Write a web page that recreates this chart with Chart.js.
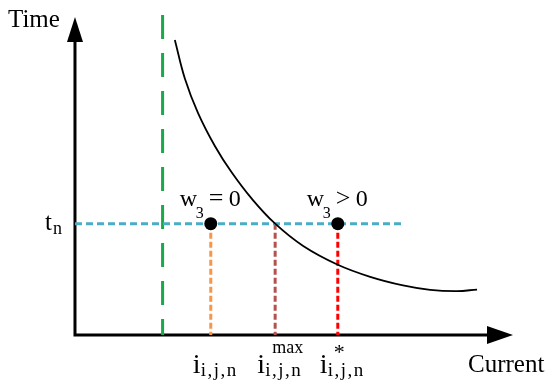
<!DOCTYPE html>
<html lang="en">

<head>
    <meta charset="UTF-8">
    <title>Time-Current Curve</title>
    <script src="https://cdn.jsdelivr.net/npm/chart.js"></script>
</head>

<style>
    body { margin: 0; background: #fff; }
    #box { width: 550px; height: 385px; }
</style>

<body>
    <div id="box">
        <canvas id="myChart" width="550" height="385"></canvas>
    </div>

    <script>
        // curve (current, time)
        const curveX = [2.28, 2.51, 2.81, 3.20, 3.58, 4.04, 4.57, 5.21, 6.00, 6.74, 7.49, 8.11, 8.72, 9.18];
        const curveY = [9.28, 8.06, 6.98, 5.93, 5.11, 4.28, 3.50, 2.80, 2.21, 1.83, 1.56, 1.42, 1.38, 1.43];

        const tn = 3.5;              // time level t_n
        const levelEnd = 7.5;        // where the t_n line stops
        const iLimit = 2.0;          // green limit line
        const limitTop = 10.06;
        const iValues = [3.1, 4.57, 6.0];          // i_{i,j,n}, i^max, i*
        const iSup = ['', 'max', '*'];
        const iColors = ['#f79646', '#b5524f', '#ff0000'];
        const dotX = [3.1, 6.0];
        const dotSigns = ['=', '>'];
        const axisEnd = 10;

        const ctxEl = document.getElementById('myChart').getContext('2d');
        const serif = '"Liberation Serif", "Times New Roman", serif';

        const pts = (xs, ys) => xs.map((x, i) => ({ x: x, y: ys[i] }));

        const datasets = [
            {   // dots, first so they sit on top
                data: dotX.map(x => ({ x: x, y: tn })),
                showLine: false,
                pointRadius: 6.5,
                pointBackgroundColor: '#000',
                pointBorderWidth: 0,
            },
            {
                data: pts(curveX, curveY),
                showLine: true,
                borderColor: '#000',
                borderWidth: 1.8,
                pointRadius: 0,
                tension: 0.4,
            },
            {
                data: [{ x: 0, y: tn }, { x: levelEnd, y: tn }],
                showLine: true,
                borderColor: '#4bacc6',
                borderWidth: 3,
                borderDash: [7, 4],
                pointRadius: 0,
            },
        ];
        iValues.forEach((v, k) => {
            datasets.push({
                data: [{ x: v, y: tn }, { x: v, y: 0 }],
                showLine: true,
                borderColor: iColors[k],
                borderWidth: 3,
                borderDash: [6, 3],
                pointRadius: 0,
            });
        });
        datasets.push({
            data: [{ x: iLimit, y: limitTop }, { x: iLimit, y: 0 }],
            showLine: true,
            borderColor: '#1aa84c',
            borderWidth: 3,
            borderDash: [24, 14],
            pointRadius: 0,
        });
        datasets.push({
            data: [{ x: 0, y: 9.3 }, { x: 0, y: 0 }, { x: 9.45, y: 0 }],
            showLine: true,
            borderColor: '#000',
            borderWidth: 3,
            borderJoinStyle: 'miter',
            pointRadius: 0,
        });

        function txt(c, s, x, y, size) {
            c.font = size + 'px ' + serif;
            c.fillText(s, x, y);
            return c.measureText(s).width;
        }

        function spaced(c, s, x, y, size, gap) {
            c.font = size + 'px ' + serif;
            for (const ch of s) {
                c.fillText(ch, x, y);
                x += c.measureText(ch).width + gap;
            }
        }

        const labelsPlugin = {
            id: 'labels',
            afterDraw(chart) {
                const c = chart.ctx;
                const sx = chart.scales.x, sy = chart.scales.y;
                const ox = sx.getPixelForValue(0), oy = sy.getPixelForValue(0);
                c.save();
                c.fillStyle = '#000';

                // arrow heads
                const ty = sy.getPixelForValue(axisEnd);
                c.beginPath();
                c.moveTo(ox, ty);
                c.lineTo(ox - 8, ty + 25);
                c.lineTo(ox + 8, ty + 25);
                c.closePath();
                c.fill();
                const tx = sx.getPixelForValue(axisEnd);
                c.beginPath();
                c.moveTo(tx, oy);
                c.lineTo(tx - 26, oy - 9);
                c.lineTo(tx - 26, oy + 9);
                c.closePath();
                c.fill();

                c.textBaseline = 'alphabetic';
                txt(c, 'Time', ox - 67, ty + 10, 25);
                txt(c, 'Current', tx - 45, oy + 37, 25);

                // t_n
                const ly = sy.getPixelForValue(tn);
                txt(c, 't', ox - 30, ly + 6, 25);
                txt(c, 'n', ox - 22, ly + 10, 18);

                // w3 labels above the dots
                dotX.forEach((v, k) => {
                    const x = sx.getPixelForValue(v) - 31;
                    txt(c, 'w', x, ly - 18, 24);
                    txt(c, '3', x + 16, ly - 6, 16);
                    txt(c, dotSigns[k], x + 29, ly - 18, 26);
                    txt(c, '0', x + 49, ly - 18, 24);
                });

                // current labels under the axis
                iValues.forEach((v, k) => {
                    const x = sx.getPixelForValue(v) - 18;
                    txt(c, 'i', x, oy + 38, 28);
                    spaced(c, 'i,j,n', x + 8, oy + 41, 19, 1.5);
                    if (iSup[k] === 'max') txt(c, 'max', x + 15, oy + 18, 18);
                    if (iSup[k] === '*') txt(c, '*', x + 14, oy + 24, 22);
                });
                c.restore();
            }
        };

        new Chart(ctxEl, {
            type: 'scatter',
            data: { datasets: datasets },
            options: {
                responsive: false,
                animation: false,
                layout: { padding: 0, autoPadding: false },
                clip: false,
                scales: {
                    x: { type: 'linear', min: -1.712, max: 10.845, display: false },
                    y: { type: 'linear', min: -1.572, max: 10.535, display: false },
                },
                plugins: {
                    legend: { display: false },
                    tooltip: { enabled: false },
                },
            },
            plugins: [labelsPlugin],
        });
    </script>
</body>

</html>
